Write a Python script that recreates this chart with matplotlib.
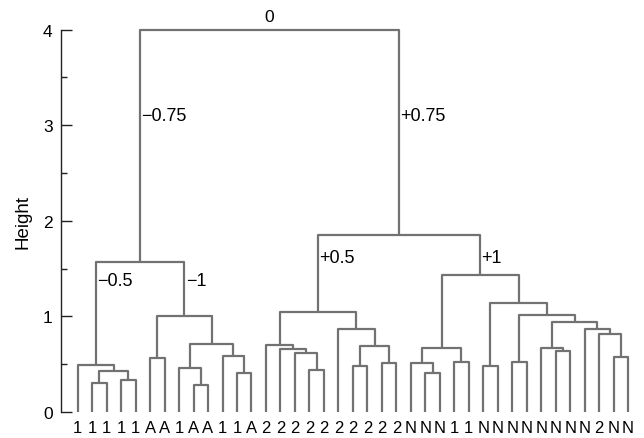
import matplotlib
matplotlib.use("Agg")
import matplotlib.pyplot as plt
from matplotlib.ticker import MultipleLocator

plt.rcParams['font.family'] = ['Liberation Sans', 'DejaVu Sans']

# Leaf labels (left to right)
leaf_labels = ['1', '1', '1', '1', '1', 'A', 'A', '1', 'A', 'A', '1', '1', 'A',
               '2', '2', '2', '2', '2', '2', '2', '2', '2', '2',
               'N', 'N', 'N', '1', '1',
               'N', 'N', 'N', 'N', 'N', 'N', 'N', 'N', '2', 'N', 'N']

# Tree: node = (left, right, height); leaf = index into leaf_labels
left_a = (0, ((1, 2, 0.30), (3, 4, 0.34), 0.43), 0.49)
left_b = ((5, 6, 0.56),
          ((7, (8, 9, 0.28), 0.46), (10, (11, 12, 0.41), 0.59), 0.71), 1.00)
left_cluster = (left_a, left_b, 1.57)

mid_a = (13, (14, (15, (16, 17, 0.44), 0.62), 0.66), 0.70)
mid_b = (18, ((19, 20, 0.48), (21, 22, 0.51), 0.69), 0.87)
mid_cluster = (mid_a, mid_b, 1.05)

right_a = ((23, (24, 25, 0.41), 0.51), (26, 27, 0.52), 0.67)
right_b = ((28, 29, 0.48),
           ((30, 31, 0.52),
            ((32, (33, 34, 0.64), 0.67),
             (35, (36, (37, 38, 0.58), 0.82), 0.87), 0.94), 1.02), 1.14)
right_cluster = (right_a, right_b, 1.43)

plus_cluster = (mid_cluster, right_cluster, 1.85)
root = (left_cluster, plus_cluster, 4.0)

# Branch annotations: (text, node, height of text)
annotations = [
    ('0', root, None),
    ('\u22120.75', left_cluster, 3.10),
    ('+0.75', plus_cluster, 3.10),
    ('\u22120.5', left_a, 1.38),
    ('\u22121', left_b, 1.38),
    ('+0.5', mid_cluster, 1.62),
    ('+1', right_cluster, 1.62),
]

fig = plt.figure(figsize=(6.44, 4.39), dpi=100)
ax = fig.add_axes([61 / 644, 26 / 439, 1 - 61 / 644, (413 - 30.7) / 439])

line_kw = dict(color='#727272', lw=1.6, solid_capstyle='butt', clip_on=False)


def draw(node):
    """Draw a node; return (x, height)."""
    if isinstance(node, int):
        return float(node), 0.0
    l, r, h = node
    xl, hl = draw(l)
    xr, hr = draw(r)
    ax.plot([xl, xl, xr, xr], [hl, h, h, hr], **line_kw)
    return (xl + xr) / 2.0, h


positions = {}


def locate(node):
    if isinstance(node, int):
        return float(node)
    x = (locate(node[0]) + locate(node[1])) / 2.0
    positions[id(node)] = x
    return x


draw(root)
locate(root)

for text, node, h in annotations:
    x = positions[id(node)]
    if h is None:
        ax.annotate(text, (x, node[2]), xytext=(0, 4), textcoords='offset points',
                    ha='center', va='bottom', fontsize=12.5)
    else:
        ax.annotate(text, (x, h), xytext=(1.0, 0), textcoords='offset points',
                    ha='left', va='center', fontsize=13)

ax.set_xlim(-1.15, 39.1)
ax.set_ylim(0, 4)

for s in ['top', 'right', 'bottom']:
    ax.spines[s].set_visible(False)
ax.spines['left'].set_linewidth(1.0)
ax.spines['left'].set_color('#222222')

ax.set_yticks([0, 1, 2, 3, 4])
ax.yaxis.set_minor_locator(MultipleLocator(0.5))
ax.tick_params(axis='y', which='major', direction='in', length=8, width=1.0,
               labelsize=12.5, pad=6, color='#222222')
ax.tick_params(axis='y', which='minor', direction='in', length=4, width=1.0,
               color='#222222')

ax.set_xticks(range(len(leaf_labels)))
ax.set_xticklabels(leaf_labels)
ax.tick_params(axis='x', length=0, labelsize=12, pad=6)

ax.set_ylabel('Height', fontsize=13.5, labelpad=8)

fig.savefig('out.png', dpi=100)
